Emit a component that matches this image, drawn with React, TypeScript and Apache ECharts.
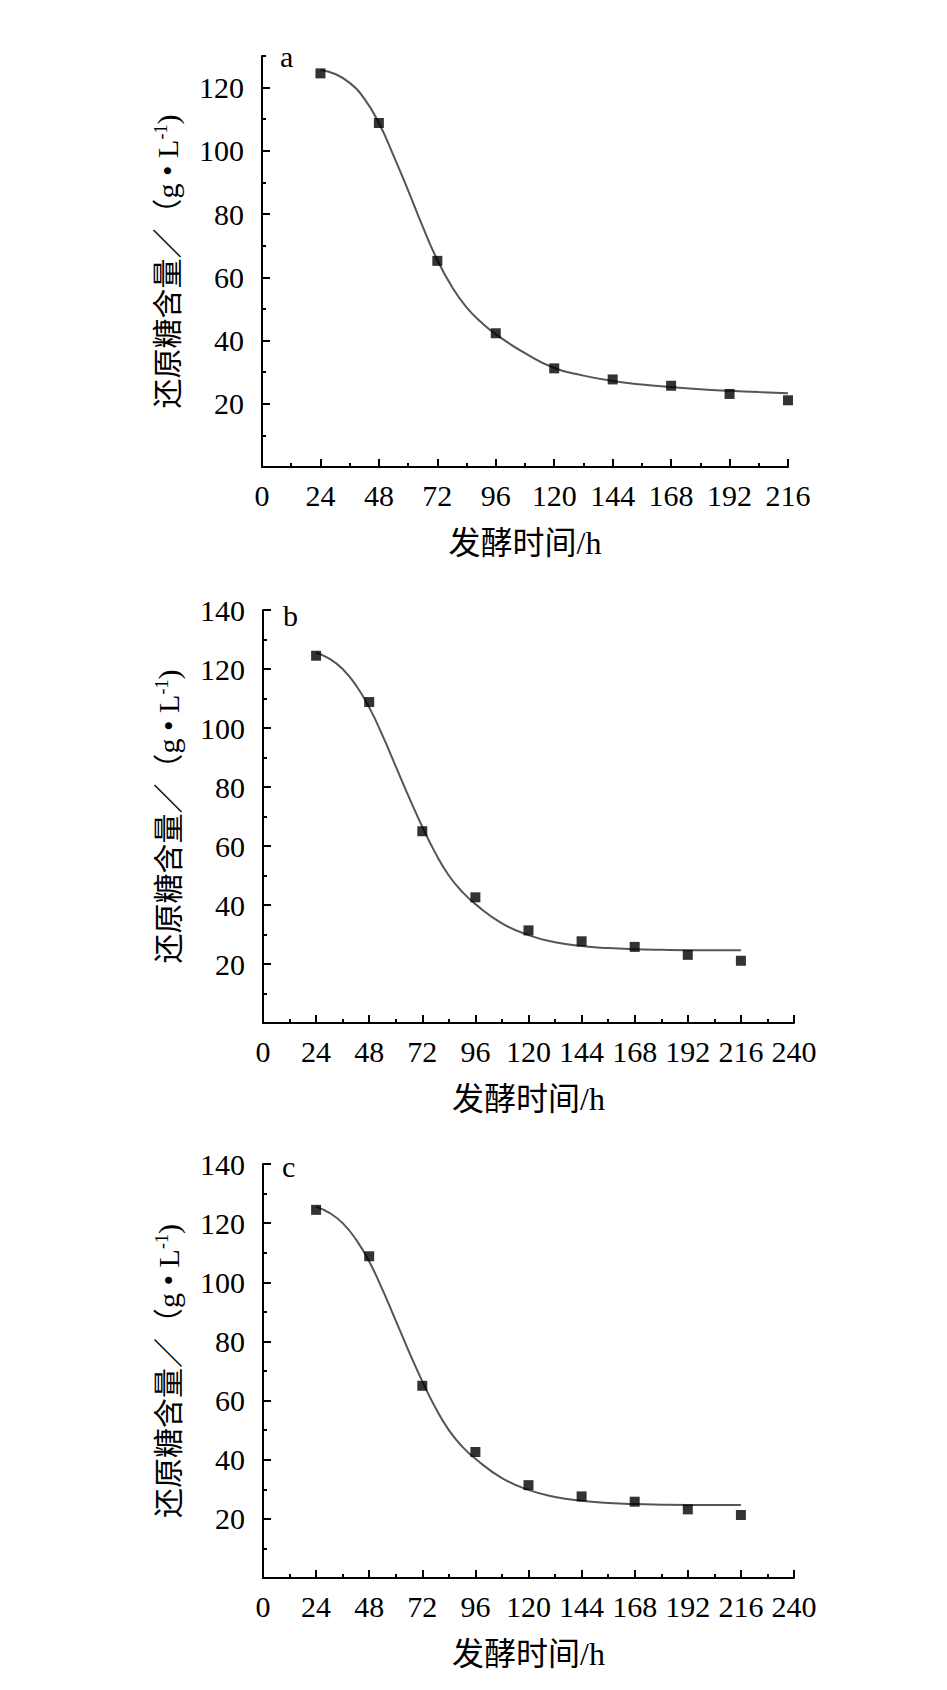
import React, { useEffect, useRef } from 'react';
import * as echarts from 'echarts';

// ---- data ----
const hours = [24, 48, 72, 96, 120, 144, 168, 192, 216];
const sugarA = [124.5, 108.8, 65.2, 42.3, 31.2, 27.7, 25.7, 23.1, 21.1];
const sugarB = [124.5, 108.8, 65.0, 42.6, 31.4, 27.7, 25.8, 23.1, 21.1];
const sugarC = [124.5, 108.8, 65.0, 42.6, 31.4, 27.6, 25.8, 23.2, 21.3];

// fitted curves
const fitHours = [24, 30, 36, 42, 48, 54, 60, 66, 72, 78, 84, 90, 96, 108, 120, 132, 144, 156, 168, 180, 192, 204, 216];
const fitA = [125.6, 124.3, 121.5, 116.5, 108.8, 98.5, 87.5, 76.0, 65.5, 57.0, 50.5, 45.8, 42.0, 36.0, 31.3, 28.9, 27.2, 26.1, 25.3, 24.6, 24.1, 23.7, 23.35];
const fitB = [125.5, 123.5, 120.0, 114.5, 107.0, 97.5, 87.0, 76.5, 66.5, 57.5, 50.0, 44.5, 40.3, 33.8, 29.8, 27.4, 26.1, 25.4, 25.0, 24.8, 24.7, 24.7, 24.7];
const fitC = [125.5, 123.5, 120.0, 114.5, 107.0, 97.5, 87.0, 76.5, 66.5, 57.5, 50.0, 44.5, 40.3, 33.8, 29.8, 27.4, 26.1, 25.4, 25.0, 24.8, 24.7, 24.7, 24.7];

const panelLabels = ['a', 'b', 'c'];
const yMaxes = [130, 140, 140];
const xMaxes = [216, 240, 240];
const yMajorA = [0, 20, 40, 60, 80, 100, 120];
const yLabelsA = [20, 40, 60, 80, 100, 120];
const yMinorA = [10, 30, 50, 70, 90, 110, 130];
const xTitle = '发酵时间/h';
const yTitle = '还原糖含量／（g • L{sup|-1})';

const FONT = '"Liberation Serif", "Times New Roman", "Noto Sans CJK SC", serif';

export default function App() {
  const ref = useRef<HTMLDivElement>(null);
  useEffect(() => {
    document.body.style.margin = '0';
    const chart = echarts.init(ref.current!, null, { renderer: 'svg' });

    const grids = [
      { left: 262, top: 56, width: 526, height: 411 },
      { left: 263, top: 610, width: 531, height: 413 },
      { left: 263, top: 1164, width: 531, height: 414 },
    ];
    const lineStyle = { color: '#000', width: 2 };
    const labelStyle = { fontFamily: FONT, fontSize: 30, color: '#000' };

    const xAxis: any[] = grids.map((_, i) => ({
      gridIndex: i,
      type: 'value',
      min: 0,
      max: xMaxes[i],
      interval: 24,
      axisLine: { show: true, onZero: false, lineStyle },
      axisTick: { show: true, inside: true, length: 8, lineStyle },
      minorTick: { show: true, splitNumber: 2, length: 4, lineStyle },
      axisLabel: { ...labelStyle, margin: 13 },
      splitLine: { show: false },
      minorSplitLine: { show: false },
      name: xTitle,
      nameLocation: 'middle',
      nameGap: 60,
      nameTextStyle: { ...labelStyle, fontSize: 32 },
    }));

    const yName = {
      name: yTitle,
      nameLocation: 'middle',
      nameGap: 80,
      nameRotate: 90,
      nameTextStyle: {
        ...labelStyle,
        rich: {
          sup: { fontFamily: FONT, fontSize: 18, color: '#000', verticalAlign: 'top', lineHeight: 30 },
        },
      },
    };

    const yAxis: any[] = [
      {
        gridIndex: 0,
        type: 'value',
        position: 'left',
        min: 0,
        max: yMaxes[0],
        interval: 10,
        axisLine: { show: true, onZero: false, lineStyle },
        axisTick: { show: true, inside: true, length: 8, lineStyle, customValues: yMajorA },
        axisLabel: {
          ...labelStyle,
          margin: 18,
          customValues: yLabelsA,
          formatter: (v: number) => (v !== 0 && v % 20 === 0 ? String(v) : ''),
        },
        splitLine: { show: false },
        ...yName,
      },
      {
        gridIndex: 0,
        type: 'value',
        position: 'left',
        min: 0,
        max: yMaxes[0],
        interval: 10,
        axisLine: { show: false },
        axisTick: { show: true, inside: true, length: 4, lineStyle, customValues: yMinorA },
        axisLabel: { show: false },
        splitLine: { show: false },
      },
      ...[1, 2].map((i) => ({
        gridIndex: i,
        type: 'value',
        position: 'left',
        min: 0,
        max: yMaxes[i],
        interval: 20,
        axisLine: { show: true, onZero: false, lineStyle },
        axisTick: { show: true, inside: true, length: 8, lineStyle },
        minorTick: { show: true, splitNumber: 2, length: 4, lineStyle },
        axisLabel: {
          ...labelStyle,
          margin: 18,
          formatter: (v: number) => (v === 0 ? '' : String(v)),
        },
        splitLine: { show: false },
        minorSplitLine: { show: false },
        ...yName,
      })),
    ];
    const yIndexFor = [0, 2, 3];

    const pts = [sugarA, sugarB, sugarC];
    const fits = [fitA, fitB, fitC];
    const series: any[] = [];
    for (let i = 0; i < 3; i++) {
      series.push({
        type: 'line',
        xAxisIndex: i,
        yAxisIndex: yIndexFor[i],
        data: fitHours.map((h, k) => [h, fits[i][k]]),
        smooth: 0.5,
        showSymbol: false,
        symbol: 'none',
        lineStyle: { color: '#555', width: 2 },
        z: 2,
      });
      series.push({
        type: 'scatter',
        xAxisIndex: i,
        yAxisIndex: yIndexFor[i],
        data: hours.map((h, k) => [h, pts[i][k]]),
        symbol: 'rect',
        symbolSize: 10,
        itemStyle: { color: '#000' },
        z: 3,
      });
    }

    const labelPos = [
      { x: 280, y: 56 },
      { x: 283, y: 615 },
      { x: 282, y: 1166 },
    ];
    const graphic = panelLabels.map((t, i) => ({
      type: 'text',
      x: labelPos[i].x,
      y: labelPos[i].y,
      style: {
        text: t,
        font: `30px ${FONT}`,
        fill: '#000',
        align: 'left',
        verticalAlign: 'middle',
        textAlign: 'left',
        textVerticalAlign: 'middle',
      },
    }));

    chart.setOption({
      animation: false,
      backgroundColor: '#fff',
      grid: grids.map((g) => ({ ...g, containLabel: false })),
      xAxis,
      yAxis,
      series,
      graphic,
    });
    return () => chart.dispose();
  }, []);
  return <div ref={ref} style={{ width: 947, height: 1690 }} />;
}
